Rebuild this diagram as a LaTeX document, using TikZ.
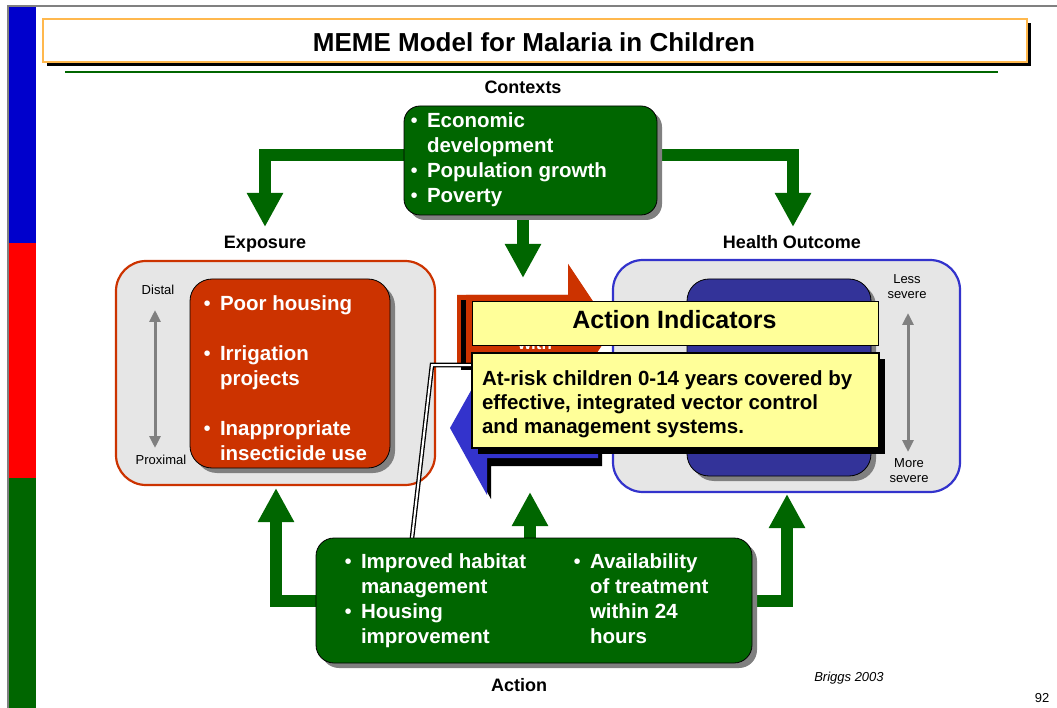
\documentclass[tikz,border=0pt]{standalone}
\usepackage{fontspec}
\setmainfont{Liberation Sans}
\usetikzlibrary{arrows.meta,shadows,calc}
\pgfdeclarelayer{bg}
\pgfdeclarelayer{back}
\pgfdeclarelayer{front}
\pgfsetlayers{bg,back,main,front}
\definecolor{dgreen}{HTML}{006600}
\definecolor{rust}{HTML}{CC3300}
\definecolor{navy}{HTML}{333399}
\definecolor{bblue}{HTML}{3333CC}
\definecolor{lgray}{HTML}{E6E6E6}
\definecolor{sgray}{HTML}{808080}
\definecolor{lyellow}{HTML}{FFFF99}
\definecolor{torange}{HTML}{FFB84D}
\definecolor{barblue}{HTML}{0000CC}
\definecolor{barred}{HTML}{FF0000}
\newcommand\bul{\makebox[16.5pt][l]{\mdseries\textbullet}}
\newcommand\ind{\hspace*{16.5pt}}
\begin{document}
\begin{tikzpicture}[x=1pt,y=-1pt,
  every node/.style={inner sep=0pt,outer sep=0pt},
  gshadow/.style={drop shadow={shadow xshift=5pt,shadow yshift=-5pt,fill=sgray,opacity=1}},
  kshadow/.style={drop shadow={shadow xshift=#1,shadow yshift=-#1,fill=black,opacity=1}},
  panel/.style={rectangle,draw=black,line width=0.8pt,rounded corners=#1,gshadow},
  outerbox/.style={rectangle,fill=lgray,line width=2.2pt,rounded corners=30pt},
  garrow/.style={draw=dgreen,line width=12pt,line join=miter,-{Triangle[width=34pt,length=34pt]}},
  grayarrow/.style={draw=sgray,line width=3pt,{Triangle[width=11pt,length=12pt]}-{Triangle[width=11pt,length=12pt]}},
  lbl/.style={font=\fontsize{18}{21}\selectfont\bfseries,text height=13pt,text depth=0pt},
  smalltxt/.style={font=\fontsize{13}{15}\selectfont,align=center},
  bltext/.style={text=white,font=\fontsize{20.5}{25}\selectfont\bfseries,anchor=north west},
  leader/.style={draw=black,line width=1.3pt,double=white,double distance=2pt,line join=miter},
]
\useasboundingbox (0,0) rectangle (1057,708);
\begin{pgfonlayer}{bg}
\fill[white] (0,0) rectangle (1057,708);
\end{pgfonlayer}
% frame and colour bar
\fill[barblue] (9,6) rectangle (36,243);
\fill[barred] (9,243) rectangle (36,478);
\fill[dgreen] (9,478) rectangle (36,708);
\draw[sgray,line width=1.5pt] (1057,6) -- (8,6) -- (8,708);
% title
\node[rectangle,draw=torange,line width=1.2pt,fill=white,minimum width=984pt,minimum height=43pt,kshadow=4pt] (titlebox) at (535,40.5) {};
\node[font=\fontsize{26}{30}\selectfont\bfseries,text height=19pt,text depth=0pt] (title) at (534,42) {MEME Model for Malaria in Children};
\draw[dgreen,line width=2.2pt] (65,72) -- (998,72);
% labels
\node[lbl] (ctxlbl) at (523,87) {Contexts};
\node[lbl] (explbl) at (265,242) {Exposure};
\node[lbl] (holbl) at (792,242) {Health Outcome};
\node[lbl] (actlbl) at (519,685) {Action};
% context box
\node[panel=16pt,fill=dgreen,minimum width=253pt,minimum height=109pt] (ctx) at (530.5,160.5) {};
\node[bltext] (ctxtxt) at (410.5,110.5) {\begin{tabular}{@{}l@{}}
\bul Economic\\ \ind development\\ \bul Population growth\\ \bul Poverty
\end{tabular}};
% exposure
\node[outerbox,draw=rust,minimum width=319pt,minimum height=224pt] (expout) at (275.5,373) {};
\node[panel=22pt,fill=rust,minimum width=200pt,minimum height=189pt] (expin) at (290,373.5) {};
\node[bltext] (exptxt) at (203.5,292.5) {\begin{tabular}{@{}l@{}}
\bul Poor housing\\ \\ \bul Irrigation\\ \ind projects\\ \\ \bul Inappropriate\\ \ind insecticide use
\end{tabular}};
\node[smalltxt,text height=9.5pt,text depth=0pt] (distal) at (158,290) {Distal};
\node[smalltxt,text height=9.5pt,text depth=0pt] (proximal) at (161,460) {Proximal};
\coordinate (dTop) at (155,310);
\coordinate (dBot) at (155,448);
\draw[grayarrow] (dTop) -- (dBot);
% health outcome
\node[outerbox,draw=bblue,minimum width=347pt,minimum height=232pt] (hoout) at (786.5,376) {};
\node[panel=22pt,fill=navy,minimum width=184pt,minimum height=197pt] (hoin) at (779,377.5) {};
\node[smalltxt] (less) at (907,286.7) {Less\\severe};
\node[smalltxt] (more) at (909,470.5) {More\\severe};
\coordinate (sTop) at (908,313);
\coordinate (sBot) at (908,452);
\draw[grayarrow] (sTop) -- (sBot);
% middle block arrows
\fill[rust] (457,295) -- (568,295) -- (568,264) -- (612,330) -- (568,396) -- (568,365) -- (457,365) -- cycle;
\fill[black] (461,300) rectangle (572,370);
\fill[rust] (466,295) -- (568,295) -- (568,264) -- (612,330) -- (568,396) -- (568,365) -- (466,365) -- cycle;
\node[text=white,font=\fontsize{17}{20}\selectfont\bfseries,anchor=base] (withtxt) at (535,350) {with};
\fill[black] (602,404) -- (491,404) -- (491,367) -- (454,432) -- (491,499) -- (491,466) -- (602,466) -- cycle;
\fill[bblue] (598,400) -- (487,400) -- (487,362) -- (450,428) -- (487,495) -- (487,458) -- (598,458) -- cycle;
% action box and indicators (front)
\begin{pgfonlayer}{front}
\node[panel=18pt,fill=dgreen,minimum width=436pt,minimum height=125pt] (action) at (534,600.5) {};
\node[bltext] (acttxtL) at (344.5,550.5) {\begin{tabular}{@{}l@{}}
\bul Improved habitat\\ \ind management\\ \bul Housing\\ \ind improvement
\end{tabular}};
\node[bltext] (acttxtR) at (573.5,550.5) {\begin{tabular}{@{}l@{}}
\bul Availability\\ \ind of treatment\\ \ind within 24\\ \ind hours
\end{tabular}};
\node[rectangle,draw=black,line width=1pt,fill=lyellow,minimum width=406pt,minimum height=44pt] (ytitle) at (675,324) {};
\node[font=\fontsize{25}{28}\selectfont\bfseries,text height=18pt,text depth=0pt] (ytitletxt) at (674.5,320) {Action Indicators};
\node[rectangle,draw=black,line width=1.5pt,fill=lyellow,minimum width=407pt,minimum height=95pt,kshadow=6pt] (ybody) at (675.5,400.5) {};
\node[anchor=north west,font=\fontsize{20.5}{24.5}\selectfont\bfseries] (ybodytxt) at (482,367.85) {\begin{tabular}{@{}l@{}}
At-risk children 0-14 years covered by\\ effective, integrated vector control\\ and management systems.
\end{tabular}};
\end{pgfonlayer}
% callout leader
\coordinate (ldBend) at (432,365);
\draw[leader] ($(ybody.west)+(0,-35.5)$) -- (ldBend) -- ($(action.north)+(-122,0)$);
% green connectors
\coordinate (expTip) at (265,227);
\coordinate (hoTip) at (793,227);
\coordinate (midTip) at (523,278);
\coordinate (expUp) at (276,488);
\coordinate (hoUp) at (787,494);
\coordinate (midUp) at (530,492);
\begin{pgfonlayer}{back}
\draw[garrow] ($(ctx.west)+(12,-5.5)$) -| (expTip);
\draw[garrow] ($(ctx.east)+(-12,-5.5)$) -| (hoTip);
\draw[garrow] ($(ctx.south)+(-7.5,-12)$) -- (midTip);
\draw[garrow] ($(action.west)+(12,0)$) -| (expUp);
\draw[garrow] ($(action.east)+(-12,0)$) -| (hoUp);
\draw[garrow] ($(action.north)+(-4,12)$) -- (midUp);
\end{pgfonlayer}
% notes
\node[font=\fontsize{13}{15}\selectfont\itshape] (briggs) at (849,678) {Briggs 2003};
\node[font=\fontsize{13}{15}\selectfont] (pagenum) at (1042,698) {92};
\end{tikzpicture}
\end{document}
